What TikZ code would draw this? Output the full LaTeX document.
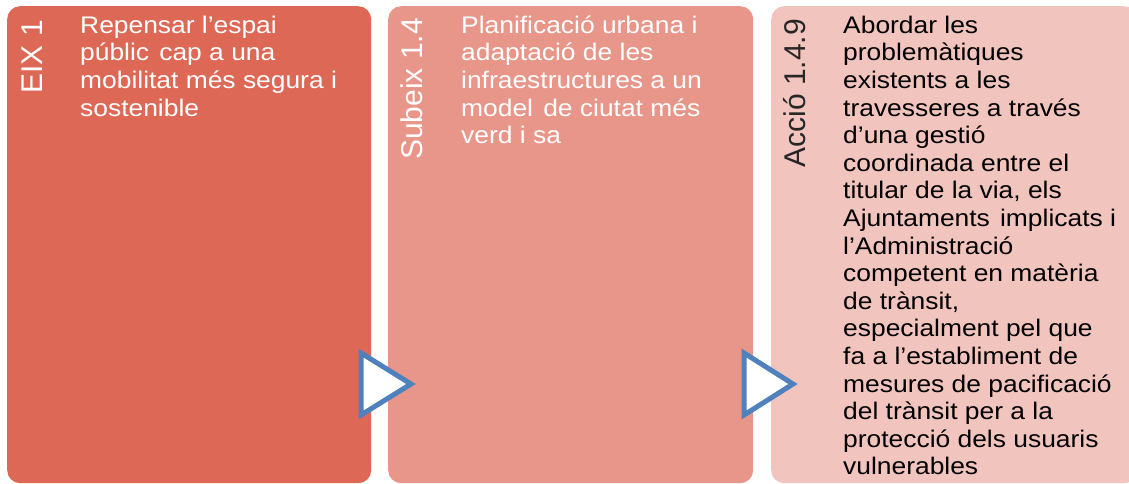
\documentclass[tikz,border=0pt]{standalone}
\usepackage{fontspec}
\setmainfont{Liberation Sans}
\newfontfamily\bodyfont{Liberation Sans}[FakeStretch=1.1]
\usepackage{xcolor}
\usepackage{tikz}
\usetikzlibrary{positioning}
\definecolor{eixred}{RGB}{221,104,86}
\definecolor{subred}{RGB}{232,150,138}
\definecolor{accpink}{RGB}{242,196,190}
\definecolor{triblue}{RGB}{79,129,189}

\begin{document}
\begin{tikzpicture}[x=1pt, y=-1pt,
        panel/.style={rectangle, rounded corners=13pt, inner sep=0pt, anchor=north west, minimum height=477pt},
        tag/.style={rotate=90, anchor=base east, inner sep=0pt, font=\fontsize{30}{36}\selectfont},
        body/.style={anchor=north west, inner sep=0pt, align=left, font=\bodyfont\fontsize{24}{27.6}\selectfont},
        pointer/.style={draw=triblue, fill=white, line width=5pt}]

        \useasboundingbox (0,0) rectangle (1129,483);

        % Panels
        \node[panel, fill=eixred, minimum width=364pt] (eix) at (7,6) {};
        \node[panel, fill=subred, minimum width=365pt] (subeix) at (388,6) {};
        \node[panel, fill=accpink, minimum width=366pt] (accio) at (771,6) {};

        % Vertical tags
        \node[tag, text=white] (eixtag) at (42,20) {EIX 1};
        \node[tag, text=white] (subtag) at (422,18) {Subeix 1.4};
        \node[tag, text=black!85] (acctag) at (805,19) {Acció 1.4.9};

        % Texts
        \node[body, text=white] (eixtxt) at (80,13.7) {\strut Repensar l’espai\\públic\ \hspace{0.12em}cap a una\\mobilitat més segura i\\sostenible};
        \node[body, text=white] (subtxt) at (461,13.7) {\strut Planificació urbana i\\adaptació de les\\infraestructures a un\\model\ \hspace{0.12em}de ciutat més\\verd i sa};
        \node[body, text=black] (acctxt) at (843,13.7) {\strut Abordar les\\problemàtiques\\existents a les\\travesseres a través\\d’una gestió\\coordinada entre el\\titular de la via, els\\Ajuntaments\ \hspace{0.12em}implicats i\\l’Administració\\competent en matèria\\de trànsit,\\especialment pel que\\fa a l’establiment de\\mesures de pacificació\\del trànsit per a la\\protecció dels usuaris\\vulnerables};

        % Pointers
        \draw[pointer] (361,353) -- (411,384) -- (361,415) -- cycle;
        \draw[pointer] (744,353) -- (793,384) -- (744,415) -- cycle;
    \end{tikzpicture}
\end{document}
